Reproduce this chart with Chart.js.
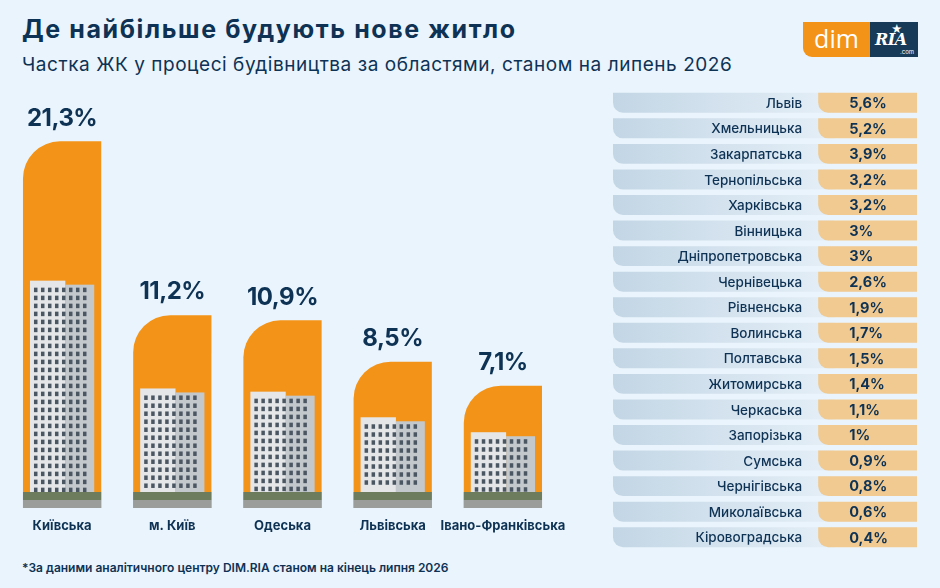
<!DOCTYPE html>
<html lang="uk">
<head>
<meta charset="utf-8">
<title>Де найбільше будують нове житло</title>
<script src="https://cdn.jsdelivr.net/npm/chart.js@4.4.1/dist/chart.umd.min.js"></script>
<style>
  html, body { margin: 0; padding: 0; }
  body {
    width: 940px; height: 588px; overflow: hidden; position: relative;
    background: #eaf4fc; color: #0e3254; font-family: Inter, sans-serif;
  }
  h1 { position: absolute; left: 22px; top: 14px; margin: 0; font-size: 25px; font-weight: 700; letter-spacing: 1.6px; white-space: nowrap; }
  .sub { position: absolute; left: 22px; top: 53px; font-size: 19px; letter-spacing: 0.55px; white-space: nowrap; }
  .note { position: absolute; left: 22px; top: 560px; font-size: 12px; font-weight: 600; }
  .logo-dim {
    position: absolute; left: 803px; top: 22px; width: 67px; height: 35px;
    background: #f39318; border-bottom-left-radius: 9px; color: #fff;
    font-family: "Open Sans", sans-serif; font-size: 25px; line-height: 33px; text-align: center;
  }
  .logo-ria {
    position: absolute; left: 870px; top: 22px; width: 48px; height: 35px; background: #173a59; color: #fff;
  }
  .logo-ria b { position: absolute; left: 5px; top: 8px; font-family: "DejaVu Serif", serif; font-style: italic; font-size: 16px; letter-spacing: -0.5px; }
  .logo-ria i { position: absolute; left: 21px; top: 0px; font-style: normal; font-size: 11px; }
  .logo-ria small { position: absolute; right: 4px; bottom: 2px; font-size: 6px; }
  #bars { position: absolute; left: 0; top: 100px; }
  #table { position: absolute; left: 600px; top: 80px; }
</style>
</head>
<body>
<h1>Де найбільше будують нове житло</h1>
<div class="sub">Частка ЖК у процесі будівництва за областями, станом на липень 2026</div>
<div class="logo-dim">dim</div>
<div class="logo-ria"><i>★</i><b>RIA</b><small>.com</small></div>
<canvas id="bars" width="600" height="450"></canvas>
<canvas id="table" width="340" height="480"></canvas>
<div class="note">*За даними аналітичного центру DIM.RIA станом на кінець липня 2026</div>

<script>
// top five regions
var topRegions = ["Київська", "м. Київ", "Одеська", "Львівська", "Івано-Франківська"];
var topShares = [21.3, 11.2, 10.9, 8.5, 7.1];

// the rest, shown as a table
var otherRegions = ["Львів", "Хмельницька", "Закарпатська", "Тернопільська", "Харківська",
  "Вінницька", "Дніпропетровська", "Чернівецька", "Рівненська", "Волинська", "Полтавська",
  "Житомирська", "Черкаська", "Запорізька", "Сумська", "Чернігівська", "Миколаївська",
  "Кіровоградська"];
var otherShares = [5.6, 5.2, 3.9, 3.2, 3.2, 3, 3, 2.6, 1.9, 1.7, 1.5, 1.4, 1.1, 1, 0.9, 0.8, 0.6, 0.4];

var navy = "#0e3254";
var orange = "#f39318";

function pct(v) {
  return String(v).replace(".", ",") + "%";
}

// rough building drawn inside the lower part of each bar (the original uses photos)
function building(ctx, bar, base) {
  var left = bar.x - bar.width / 2, right = bar.x + bar.width / 2;
  var top = bar.y + (base - bar.y) * 0.38;
  var bl = left + 7, br = right - 7, bb = base - 12;
  var mid = bl + (br - bl) * 0.55;
  ctx.fillStyle = "#e4e6e8";
  ctx.fillRect(bl, top, mid - bl, bb - top);
  ctx.fillStyle = "#c3c8cd";
  ctx.fillRect(mid, top + 4, br - mid, bb - top - 4);
  ctx.fillStyle = "#4b5663";
  for (var y = top + 7; y < bb - 8; y += 8) {
    for (var x = bl + 4; x < br - 5; x += 7) {
      ctx.fillRect(x, y, 3.5, 4.5);
    }
  }
  // greenery and street at the foot
  ctx.fillStyle = "#6d7c5c";
  ctx.fillRect(left, bb - 4, bar.width, 8);
  ctx.fillStyle = "#9a9d9a";
  ctx.fillRect(left, bb + 4, bar.width, base - bb - 4);
}

var barText = {
  id: "barText",
  afterDatasetsDraw: function(chart) {
    var ctx = chart.ctx;
    var bottom = chart.chartArea.bottom;
    ctx.save();
    chart.getDatasetMeta(0).data.forEach(function(bar, i) {
      building(ctx, bar, bottom);
      ctx.fillStyle = navy;
      ctx.textAlign = "center";
      ctx.textBaseline = "middle";
      ctx.letterSpacing = "-0.5px";
      ctx.font = "700 24px Inter";
      ctx.fillText(pct(topShares[i]), bar.x, bar.y - 23);
      ctx.letterSpacing = "0px";
      ctx.font = "700 13px Inter";
      ctx.fillText(topRegions[i], bar.x, bottom + 18);
    });
    ctx.restore();
  }
};

new Chart("bars", {
  type: "bar",
  data: {
    labels: topRegions,
    datasets: [{
      data: topShares,
      backgroundColor: orange,
      borderRadius: { topLeft: 37 },
      borderSkipped: false,
      barPercentage: 0.71,
      categoryPercentage: 1
    }]
  },
  options: {
    responsive: false,
    animation: false,
    layout: { padding: { left: 7, right: 42, top: 0, bottom: 42 } },
    plugins: { legend: { display: false }, tooltip: { enabled: false } },
    scales: {
      x: { display: false },
      y: { display: false, min: 0, max: 23.7 }
    }
  },
  plugins: [barText]
});

// table rows: label cell and value cell are floating bars on a 0..1 axis
var split = 0.675;

var tableText = {
  id: "tableText",
  afterDatasetsDraw: function(chart) {
    var ctx = chart.ctx;
    var at = chart.scales.x.getPixelForValue(split);
    ctx.save();
    ctx.fillStyle = navy;
    ctx.textBaseline = "middle";
    chart.getDatasetMeta(0).data.forEach(function(bar, i) {
      ctx.textAlign = "right";
      ctx.font = "500 13.5px Inter";
      ctx.fillText(otherRegions[i], at - 16, bar.y + 1);
      ctx.textAlign = "left";
      ctx.font = "700 14.5px Inter";
      ctx.fillText(pct(otherShares[i]), at + 31, bar.y + 1);
    });
    ctx.restore();
  }
};

function labelFill(c) {
  var a = c.chart.chartArea;
  if (!a) return "#d4e3ef";
  var g = c.chart.ctx.createLinearGradient(a.left, 0, a.left + split * (a.right - a.left), 0);
  g.addColorStop(0, "#c3d6e5");
  g.addColorStop(1, "#e2edf6");
  return g;
}

new Chart("table", {
  type: "bar",
  data: {
    labels: otherRegions,
    datasets: [{
      data: otherShares.map(function() { return [split, 1]; }),
      backgroundColor: "#f1ca91",
      borderRadius: { bottomLeft: 10 },
      borderSkipped: false,
      grouped: false,
      barPercentage: 0.78,
      categoryPercentage: 1
    }, {
      data: otherShares.map(function() { return [0, split + 0.05]; }),
      backgroundColor: labelFill,
      borderRadius: { bottomLeft: 10 },
      borderSkipped: false,
      grouped: false,
      barPercentage: 0.78,
      categoryPercentage: 1
    }]
  },
  options: {
    indexAxis: "y",
    responsive: false,
    animation: false,
    layout: { padding: { left: 13, right: 23, top: 10, bottom: 10 } },
    plugins: { legend: { display: false }, tooltip: { enabled: false } },
    scales: {
      x: { display: false, min: 0, max: 1 },
      y: { display: false }
    }
  },
  plugins: [tableText]
});
</script>
</body>
</html>
